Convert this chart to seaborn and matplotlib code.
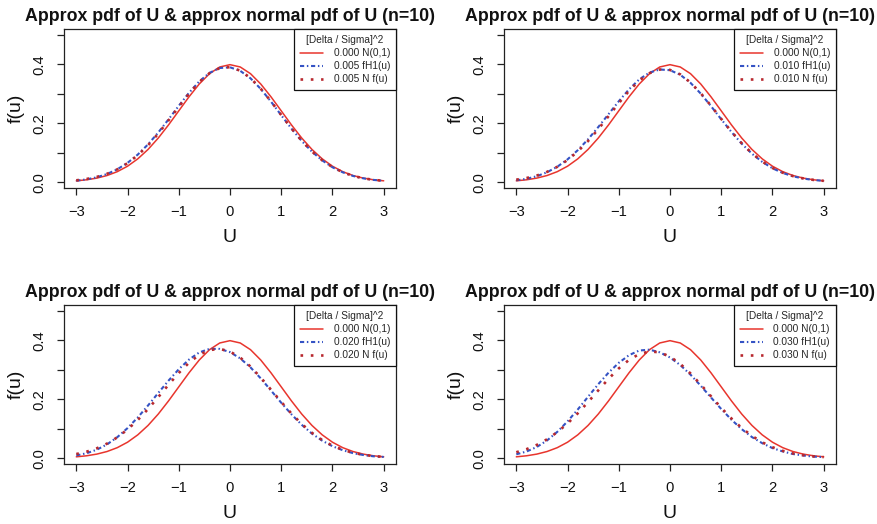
import matplotlib
matplotlib.use("Agg")
import matplotlib.pyplot as plt
import seaborn as sns

# ---------------- data ----------------
u = [-3.0, -2.8, -2.6, -2.4, -2.2, -2.0, -1.8, -1.6, -1.4, -1.2, -1.0,
     -0.8, -0.6, -0.4, -0.2, 0.0, 0.2, 0.4, 0.6, 0.8, 1.0,
     1.2, 1.4, 1.6, 1.8, 2.0, 2.2, 2.4, 2.6, 2.8, 3.0]

std_normal = [0.0044, 0.0079, 0.0136, 0.0224, 0.0355, 0.0540, 0.0790, 0.1109, 0.1497, 0.1942, 0.2420,
              0.2897, 0.3332, 0.3683, 0.3910, 0.3989, 0.3910, 0.3683, 0.3332, 0.2897, 0.2420,
              0.1942, 0.1497, 0.1109, 0.0790, 0.0540, 0.0355, 0.0224, 0.0136, 0.0079, 0.0044]

nf_005 = [0.0061, 0.0106, 0.0176, 0.0282, 0.0433, 0.0641, 0.0913, 0.1251, 0.1650, 0.2095, 0.2558,
          0.3006, 0.3400, 0.3700, 0.3875, 0.3904, 0.3786, 0.3533, 0.3172, 0.2741, 0.2279,
          0.1824, 0.1404, 0.1040, 0.0742, 0.0509, 0.0336, 0.0213, 0.0131, 0.0077, 0.0043]
fh1_005 = [0.0049, 0.0093, 0.0164, 0.0275, 0.0435, 0.0653, 0.0935, 0.1281, 0.1685, 0.2130, 0.2590,
           0.3033, 0.3420, 0.3710, 0.3875, 0.3899, 0.3779, 0.3526, 0.3165, 0.2734, 0.2272,
           0.1817, 0.1397, 0.1033, 0.0737, 0.0504, 0.0333, 0.0210, 0.0129, 0.0075, 0.0043]

nf_010 = [0.0083, 0.0139, 0.0223, 0.0347, 0.0519, 0.0749, 0.1041, 0.1394, 0.1799, 0.2237, 0.2682,
          0.3098, 0.3449, 0.3700, 0.3825, 0.3811, 0.3659, 0.3385, 0.3019, 0.2594, 0.2148,
          0.1714, 0.1318, 0.0977, 0.0698, 0.0480, 0.0319, 0.0204, 0.0126, 0.0075, 0.0043]
fh1_010 = [0.0060, 0.0112, 0.0200, 0.0334, 0.0522, 0.0772, 0.1084, 0.1454, 0.1869, 0.2307, 0.2745,
           0.3151, 0.3489, 0.3720, 0.3825, 0.3801, 0.3646, 0.3372, 0.3006, 0.2581, 0.2135,
           0.1701, 0.1305, 0.0964, 0.0688, 0.0470, 0.0312, 0.0197, 0.0122, 0.0071, 0.0043]

nf_020 = [0.0138, 0.0218, 0.0333, 0.0493, 0.0704, 0.0972, 0.1295, 0.1667, 0.2073, 0.2491, 0.2891,
          0.3240, 0.3509, 0.3670, 0.3709, 0.3620, 0.3413, 0.3109, 0.2735, 0.2324, 0.1908,
          0.1513, 0.1159, 0.0858, 0.0613, 0.0423, 0.0282, 0.0182, 0.0113, 0.0068, 0.0040]
fh1_020 = [0.0091, 0.0165, 0.0286, 0.0466, 0.0711, 0.1019, 0.1382, 0.1787, 0.2213, 0.2631, 0.3018,
           0.3347, 0.3589, 0.3710, 0.3709, 0.3600, 0.3386, 0.3082, 0.2708, 0.2297, 0.1881,
           0.1486, 0.1132, 0.0831, 0.0593, 0.0403, 0.0269, 0.0169, 0.0106, 0.0061, 0.0040]

nf_030 = [0.0199, 0.0304, 0.0448, 0.0639, 0.0882, 0.1177, 0.1521, 0.1902, 0.2300, 0.2691, 0.3046,
          0.3336, 0.3534, 0.3623, 0.3593, 0.3448, 0.3201, 0.2875, 0.2498, 0.2100, 0.1708,
          0.1344, 0.1023, 0.0754, 0.0537, 0.0370, 0.0247, 0.0159, 0.0100, 0.0060, 0.0035]
fh1_030 = [0.0129, 0.0224, 0.0378, 0.0599, 0.0892, 0.1247, 0.1651, 0.2082, 0.2510, 0.2901, 0.3236,
           0.3496, 0.3654, 0.3683, 0.3593, 0.3418, 0.3161, 0.2835, 0.2458, 0.2060, 0.1668,
           0.1304, 0.0983, 0.0714, 0.0507, 0.0340, 0.0227, 0.0139, 0.0090, 0.0050, 0.0035]

deltas = ["0.005", "0.010", "0.020", "0.030"]
fh1_series = [fh1_005, fh1_010, fh1_020, fh1_030]
nf_series = [nf_005, nf_010, nf_020, nf_030]

x_ticks = [-3, -2, -1, 0, 1, 2, 3]
y_ticks = [0.0, 0.1, 0.2, 0.3, 0.4, 0.5]
y_ticklabels = ["0.0", "", "0.2", "", "0.4", ""]

title_text = "Approx pdf of U & approx normal pdf of U (n=10)"
legend_title = "[Delta / Sigma]^2"

# ---------------- styling ----------------
sns.set_style("ticks")
plt.rcParams["font.family"] = ["Liberation Sans", "DejaVu Sans"]
plt.rcParams["axes.linewidth"] = 0.9
plt.rcParams["axes.edgecolor"] = "#222222"

RED = "#e8352d"
BLUE = "#3452c4"
DOT = "#b8282e"

W, H = 878, 524
fig = plt.figure(figsize=(W / 100, H / 100), dpi=100)

panel_px = [(64, 29), (504, 29), (64, 305), (504, 305)]  # left, top in px
pw, ph = 332, 159

for i in range(4):
    lx, ty = panel_px[i]
    ax = fig.add_axes([lx / W, 1 - (ty + ph) / H, pw / W, ph / H])
    sns.lineplot(x=u, y=std_normal, ax=ax, color=RED, linewidth=1.1,
                 label="0.000 N(0,1)", sort=False, estimator=None)
    sns.lineplot(x=u, y=fh1_series[i], ax=ax, color=BLUE, linewidth=1.5,
                 linestyle=(0, (2.0, 1.3, 0.7, 1.3)),
                 label=f"{deltas[i]} fH1(u)", sort=False, estimator=None)
    sns.lineplot(x=u, y=nf_series[i], ax=ax, color=DOT, linewidth=1.9,
                 linestyle=(0, (1.0, 2.9)),
                 label=f"{deltas[i]} N f(u)", sort=False, estimator=None)

    ax.set_xlim(-3.24, 3.24)
    ax.set_ylim(-0.02, 0.52)
    ax.set_xticks(x_ticks)
    ax.set_xticklabels([f"\u2212{abs(t)}" if t < 0 else str(t) for t in x_ticks])
    ax.set_yticks(y_ticks)
    ax.set_yticklabels(y_ticklabels, rotation=90, va="center")
    ax.tick_params(axis="both", direction="out", length=5, width=0.9,
                   labelsize=10.6, pad=7.5, colors="#222222")
    ax.tick_params(axis="x", labelcolor="#111111")
    ax.tick_params(axis="y", labelcolor="#111111")
    for s in ax.spines.values():
        s.set_visible(True)
    ax.set_xlabel("")
    ax.set_ylabel("")
    ax.text(0.5, -54 / ph, "U", transform=ax.transAxes, ha="center",
            va="baseline", fontsize=14, color="#111111")
    ax.text(-48 / pw, 0.5, "f(u)", transform=ax.transAxes,
            ha="center", va="center", rotation=90, fontsize=14, color="#111111")

    leg = ax.legend(title=legend_title, loc="upper right", fontsize=7.3,
                    title_fontsize=7.3, frameon=True, fancybox=False,
                    borderaxespad=0, handlelength=2.3, handletextpad=1.0,
                    borderpad=0.6, labelspacing=0.3, edgecolor="#111111")
    leg.get_frame().set_linewidth(0.9)
    leg.get_frame().set_alpha(1)

    fig.text((lx + pw / 2) / W, 1 - (ty - 8.3) / H, title_text, ha="center",
             va="baseline", fontsize=12.8, fontweight="bold", color="#111111")

fig.savefig("out.png", dpi=100)
